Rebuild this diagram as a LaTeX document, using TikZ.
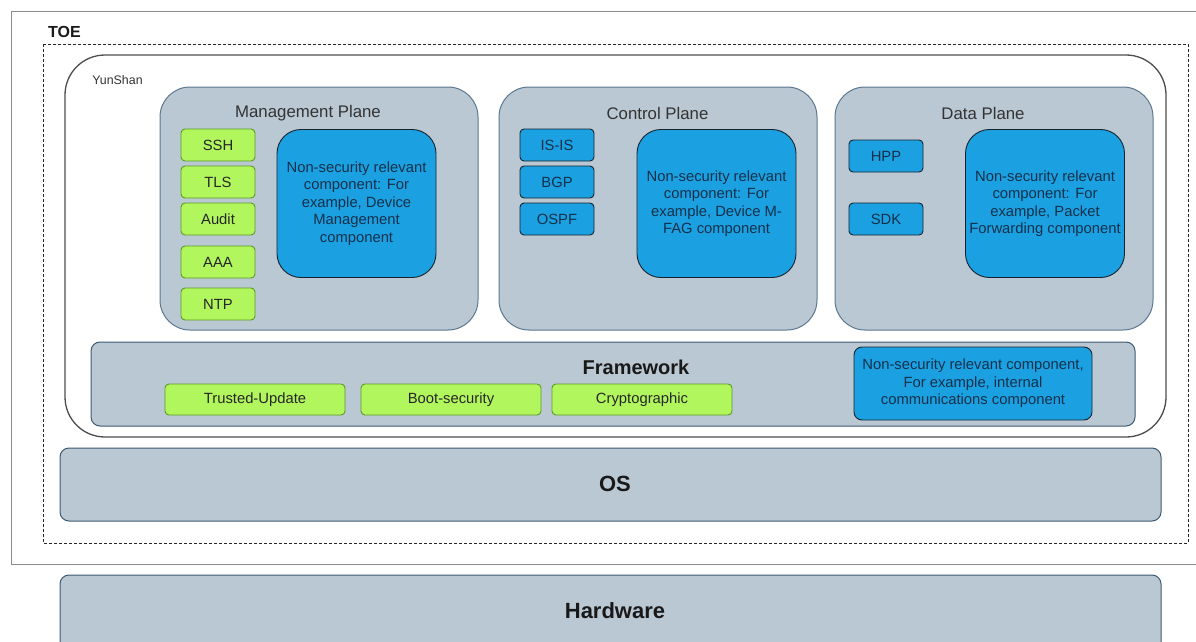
\documentclass[tikz,border=0pt]{standalone}
\usepackage{fontspec}
\setmainfont{Liberation Sans}
\definecolor{planefill}{HTML}{BAC8D3}
\definecolor{planedraw}{HTML}{5B7890}
\definecolor{framedraw}{HTML}{3D5A73}
\definecolor{greenfill}{HTML}{B2F65E}
\definecolor{greendraw}{HTML}{5C9A23}
\definecolor{bluefill}{HTML}{1BA1E2}
\definecolor{bluedraw}{HTML}{16232E}
\definecolor{bluetext}{HTML}{13304A}
\definecolor{outergray}{HTML}{8C8C8C}
\definecolor{yundraw}{HTML}{4D4D4D}
\tikzset{
  plane/.style={draw=planedraw, fill=planefill, line width=1pt, rounded corners=30pt, minimum width=318pt, minimum height=243pt, inner sep=0pt},
  layer/.style={draw=framedraw, fill=planefill, line width=1pt, rounded corners=9pt, inner sep=0pt},
  gbox/.style={draw=greendraw, fill=greenfill, line width=0.9pt, rounded corners=4pt, text=black!85, font=\fontsize{14.8}{17.5}\selectfont, inner sep=0pt},
  bbox/.style={draw=bluedraw, fill=bluefill, line width=0.9pt, rounded corners=4pt, text=bluetext, font=\fontsize{14.8}{17.5}\selectfont, inner sep=0pt, align=center},
  bigbox/.style={bbox, rounded corners=24pt, minimum width=159pt, minimum height=148pt},
  ptitle/.style={text=black!80, font=\fontsize{16.8}{20}\selectfont, inner sep=0pt},
  boldlabel/.style={text=black!90, font=\bfseries\fontsize{#1}{#1}\selectfont, inner sep=0pt},
}
\begin{document}
\begin{tikzpicture}[x=1pt,y=-1pt]
\useasboundingbox (0,0) rectangle (1196,642);
\clip (0,0) rectangle (1196,642);
% outer TOE frame
\draw[draw=outergray, line width=1pt] (11,12) rectangle (1210,564);
\node[boldlabel=16] (toe) at (64.5,32) {TOE};
\draw[dash pattern=on 3pt off 2pt, line width=0.9pt, black!85] (43,44) rectangle (1188,543);
% YunShan
\node[draw=yundraw, fill=white, line width=1.3pt, rounded corners=40pt, minimum width=1101pt, minimum height=382pt, inner sep=0pt] (yun) at (615.5,246) {};
\node[text=black!80, font=\fontsize{12.4}{14}\selectfont, inner sep=0pt] (yunlabel) at (117.5,80) {YunShan};
% Management plane
\node[plane] (mp) at (319,208.5) {};
\node[ptitle] (mpt) at (308,113) {Management Plane};
\node[gbox, minimum width=74pt, minimum height=32pt] (ssh) at (218,145) {SSH};
\node[gbox, minimum width=74pt, minimum height=32pt] (tls) at (218,182) {TLS};
\node[gbox, minimum width=74pt, minimum height=32pt] (audit) at (218,219) {Audit};
\node[gbox, minimum width=74pt, minimum height=32pt] (aaa) at (218,262) {AAA};
\node[gbox, minimum width=74pt, minimum height=32pt] (ntp) at (218,304) {NTP};
\node[bigbox] (mpn) at (356.5,203.5) {Non-security relevant\\component: For\\example, Device\\Management\\component};
% Control plane
\node[plane] (cp) at (658,208.5) {};
\node[ptitle] (cpt) at (657.5,113) {Control Plane};
\node[bbox, minimum width=74pt, minimum height=32pt] (isis) at (557,145) {IS-IS};
\node[bbox, minimum width=74pt, minimum height=32pt] (bgp) at (557,182) {BGP};
\node[bbox, minimum width=74pt, minimum height=32pt] (ospf) at (557,219) {OSPF};
\node[bigbox] (cpn) at (716.5,203.5) {Non-security relevant\\component: For\\example, Device M-\\FAG component};
% Data plane
\node[plane] (dp) at (994,208.5) {};
\node[ptitle] (dpt) at (983,113) {Data Plane};
\node[bbox, minimum width=74pt, minimum height=32pt] (hpp) at (886,156) {HPP};
\node[bbox, minimum width=74pt, minimum height=32pt] (sdk) at (886,219) {SDK};
\node[bigbox] (dpn) at (1045,203.5) {Non-security relevant\\component: For\\example, Packet\\Forwarding component};
% Framework
\node[layer, minimum width=1044pt, minimum height=84pt] (fw) at (613,384) {};
\node[boldlabel=20] (fwt) at (636,367) {Framework};
\node[gbox, minimum width=180pt, minimum height=31pt] (tu) at (255,399.5) {Trusted-Update};
\node[gbox, minimum width=180pt, minimum height=31pt] (bs) at (451,399.5) {Boot-security};
\node[gbox, minimum width=180pt, minimum height=31pt] (cr) at (642,399.5) {Cryptographic};
\node[bbox, rounded corners=8pt, minimum width=238pt, minimum height=73pt] (fwn) at (973,383.5) {Non-security relevant component,\\For example, internal\\communications component};
% OS
\node[layer, minimum width=1101pt, minimum height=73pt] (os) at (610.5,484.5) {};
\node[boldlabel=22] (ost) at (615,484) {OS};
% Hardware
\node[layer, minimum width=1101pt, minimum height=80pt] (hw) at (610.5,615) {};
\node[boldlabel=22] (hwt) at (615,611) {Hardware};
\end{tikzpicture}
\end{document}
